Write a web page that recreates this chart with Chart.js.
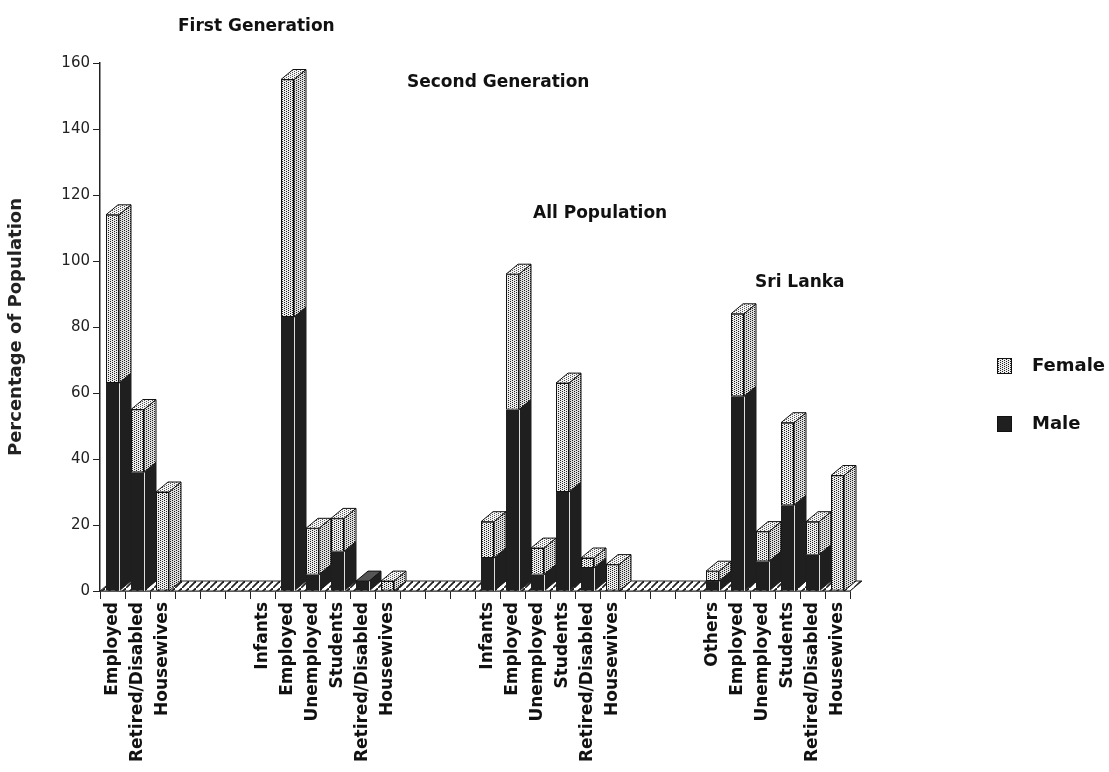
<!DOCTYPE html>
<html>
<head>
<meta charset="utf-8">
<script src="https://cdn.jsdelivr.net/npm/chart.js@4.4.1/dist/chart.umd.min.js"></script>
<style>
  html, body { margin: 0; padding: 0; background: #fff; }
  #wrap { width: 1109px; height: 772px; position: relative; }
</style>
</head>
<body>
<div id="wrap"><canvas id="myChart"></canvas></div>
<script>
// x axis slots (blank ones are the gaps between the groups)
const categories = [
  'Employed', 'Retired/Disabled', 'Housewives', '', '', '',
  'Infants', 'Employed', 'Unemployed', 'Students', 'Retired/Disabled', 'Housewives', '', '', '',
  'Infants', 'Employed', 'Unemployed', 'Students', 'Retired/Disabled', 'Housewives', '', '', '',
  'Others', 'Employed', 'Unemployed', 'Students', 'Retired/Disabled', 'Housewives'
];
const maleValues = [
  63, 36, 0, 0, 0, 0,
  0, 83, 5, 12, 3, 0, 0, 0, 0,
  10, 55, 5, 30, 7, 0, 0, 0, 0,
  3, 59, 9, 26, 11, 0
];
const femaleValues = [
  51, 19, 30, 0, 0, 0,
  0, 72, 14, 10, 0, 3, 0, 0, 0,
  11, 41, 8, 33, 3, 8, 0, 0, 0,
  3, 25, 9, 25, 10, 35
];
const yTicks = [0, 20, 40, 60, 80, 100, 120, 140, 160];
const groupTitles = ['First Generation', 'Second Generation', 'All Population', 'Sri Lanka'];
const seriesNames = ['Male', 'Female'];

const FONT = "'DejaVu Sans', sans-serif";
const BAR_PCT = 0.52;
const DX = 12, DY = 10; // depth of the 3d faces

const canvas = document.getElementById('myChart');
const ctx = canvas.getContext('2d');

function stipple(bg, dot) {
  const c = document.createElement('canvas');
  c.width = 4; c.height = 4;
  const g = c.getContext('2d');
  g.fillStyle = bg;
  g.fillRect(0, 0, 4, 4);
  g.fillStyle = dot;
  [[0, 0], [2, 1], [0, 2], [2, 3]].forEach(p => g.fillRect(p[0], p[1], 1, 1));
  return ctx.createPattern(c, 'repeat');
}
function hatching() {
  const c = document.createElement('canvas');
  c.width = 7; c.height = 7;
  const g = c.getContext('2d');
  g.fillStyle = '#fff';
  g.fillRect(0, 0, 7, 7);
  g.strokeStyle = '#222';
  g.lineWidth = 1.8;
  g.beginPath();
  g.moveTo(-1, 8); g.lineTo(8, -1);
  g.stroke();
  return ctx.createPattern(c, 'repeat');
}
const femaleFront = stipple('#ececec', '#222');
const femaleSide = stipple('#dcdcdc', '#222');
const femaleTop = stipple('#f5f5f5', '#555');
const maleColor = '#1f1f1f';
const floorHatch = hatching();

function face(pts, fill, stroke) {
  ctx.beginPath();
  ctx.moveTo(pts[0][0], pts[0][1]);
  for (let k = 1; k < pts.length; k++) ctx.lineTo(pts[k][0], pts[k][1]);
  ctx.closePath();
  ctx.fillStyle = fill;
  ctx.fill();
  ctx.strokeStyle = stroke;
  ctx.stroke();
}

// floor, side faces and top faces of the bars
const depthPlugin = {
  id: 'depth',
  beforeDatasetsDraw(chart) {
    const { chartArea, scales: { x, y } } = chart;
    const y0 = y.getPixelForValue(0);
    ctx.save();
    ctx.lineWidth = 1;
    face([[chartArea.left, y0], [chartArea.right, y0], [chartArea.right + DX, y0 - DY], [chartArea.left + DX, y0 - DY]], floorHatch, '#222');
    ctx.restore();
  },
  afterDatasetsDraw(chart) {
    const { scales: { x, y } } = chart;
    const slot = x.width / categories.length;
    ctx.save();
    ctx.lineWidth = 1;
    categories.forEach((c, i) => {
      const m = maleValues[i], f = femaleValues[i];
      if (m + f === 0) return;
      const cx = x.getPixelForValue(i);
      const l = cx - slot * BAR_PCT / 2, r = cx + slot * BAR_PCT / 2;
      const yb = y.getPixelForValue(0), ym = y.getPixelForValue(m), yt = y.getPixelForValue(m + f);
      if (m > 0) {
        face([[r, yb], [r + DX, yb - DY], [r + DX, ym - DY], [r, ym]], maleColor, maleColor);
        ctx.strokeStyle = '#ddd';
        ctx.beginPath(); ctx.moveTo(r + 0.5, yb); ctx.lineTo(r + 0.5, ym); ctx.stroke();
      }
      if (f > 0) {
        face([[r, ym], [r + DX, ym - DY], [r + DX, yt - DY], [r, yt]], femaleSide, '#111');
      }
      const topFill = f > 0 ? femaleTop : '#555';
      face([[l, yt], [l + DX, yt - DY], [r + DX, yt - DY], [r, yt]], topFill, '#111');
    });
    ctx.restore();
  },
  afterDraw(chart) {
    const { scales: { x, y } } = chart;
    ctx.save();
    // group titles
    const anchors = [[2.62, 171], [11.78, 154], [16.82, 114.5], [25.7, 93.6]];
    ctx.font = 'bold 17px ' + FONT;
    ctx.fillStyle = '#111';
    ctx.textAlign = 'left';
    ctx.textBaseline = 'middle';
    groupTitles.forEach((t, k) => {
      ctx.fillText(t, x.getPixelForValue(anchors[k][0]), y.getPixelForValue(anchors[k][1]));
    });
    // legend (Female above Male)
    const lx = chart.width - 112;
    const items = [
      { name: seriesNames[1], fill: femaleFront, cy: 365 },
      { name: seriesNames[0], fill: maleColor, cy: 423 }
    ];
    ctx.font = 'bold 18px ' + FONT;
    ctx.lineWidth = 1;
    items.forEach(it => {
      ctx.fillStyle = it.fill;
      ctx.fillRect(lx, it.cy - 7, 14, 15);
      ctx.strokeStyle = '#111';
      ctx.strokeRect(lx + 0.5, it.cy - 6.5, 14, 15);
      ctx.fillStyle = '#111';
      ctx.fillText(it.name, lx + 35, it.cy + 1);
    });
    ctx.restore();
  }
};

new Chart(ctx, {
  type: 'bar',
  data: {
    labels: categories,
    datasets: [{
      label: seriesNames[0],
      data: maleValues.map(v => v || null),
      backgroundColor: maleColor,
      borderWidth: 0
    }, {
      label: seriesNames[1],
      data: femaleValues.map(v => v || null),
      backgroundColor: femaleFront,
      borderColor: '#111',
      borderWidth: 1,
      borderSkipped: false
    }]
  },
  options: {
    responsive: true,
    maintainAspectRatio: false,
    animation: false,
    layout: { padding: { top: 63, right: 259, left: 0, bottom: 0 } },
    plugins: {
      legend: { display: false },
      tooltip: { enabled: false }
    },
    datasets: { bar: { barPercentage: BAR_PCT, categoryPercentage: 1 } },
    scales: {
      x: {
        stacked: true,
        offset: true,
        afterFit: s => { s.height = 181; },
        grid: { offset: true, drawOnChartArea: false, tickLength: 8, color: '#222' },
        border: { display: true, color: '#222', width: 1.5 },
        ticks: {
          autoSkip: false, maxRotation: 90, minRotation: 90, padding: 3,
          color: '#111', font: { family: FONT, size: 17, weight: 'bold' }
        }
      },
      y: {
        stacked: true,
        min: 0, max: 160,
        afterFit: s => { s.width = 100; },
        afterBuildTicks: s => { s.ticks = yTicks.map(v => ({ value: v })); },
        grid: { drawOnChartArea: false, tickLength: 7, color: '#222' },
        border: { display: true, color: '#222', width: 1.5 },
        ticks: { padding: 3, color: '#222', font: { family: FONT, size: 15 } },
        title: {
          display: true, text: 'Percentage of Population', color: '#222',
          font: { family: FONT, size: 18, weight: 'bold' }, padding: { top: 6, bottom: 0 }
        }
      }
    }
  },
  plugins: [depthPlugin]
});
</script>
</body>
</html>
